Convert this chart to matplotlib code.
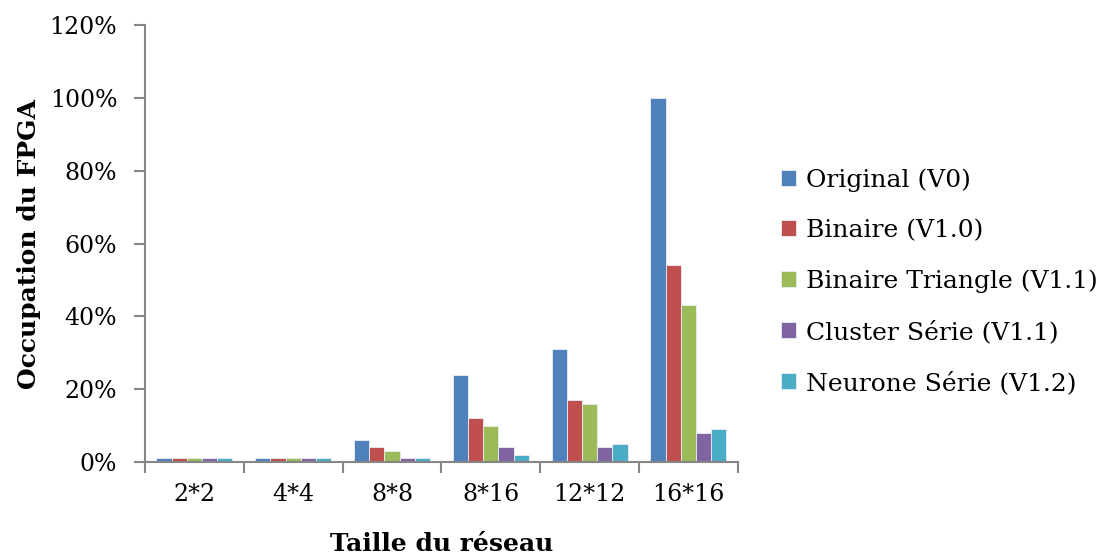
import matplotlib
matplotlib.use("Agg")
import matplotlib.pyplot as plt
import numpy as np
from matplotlib.ticker import FuncFormatter, MultipleLocator

categories = ["2*2", "4*4", "8*8", "8*16", "12*12", "16*16"]
series_names = ["Original (V0)", "Binaire (V1.0)", "Binaire Triangle (V1.1)",
                "Cluster Série (V1.1)", "Neurone Série (V1.2)"]
original = [1, 1, 6, 24, 31, 100]
binaire = [1, 1, 4, 12, 17, 54]
binaire_triangle = [1, 1, 3, 10, 16, 43]
cluster_serie = [1, 1, 1, 4, 4, 8]
neurone_serie = [1, 1, 1, 2, 5, 9]
colors = ["#4F81BD", "#C0504D", "#9BBB59", "#8064A2", "#4BACC6"]

plt.rcParams['font.family'] = ['DejaVu Serif']

fig = plt.figure(figsize=(11.02, 5.58), dpi=100)
ax = fig.add_axes([0.1316, 0.172, 0.538, 0.783])

data = [original, binaire, binaire_triangle, cluster_serie, neurone_serie]
x = np.arange(len(categories))
w = 1 / 6.5
for i, (vals, name, c) in enumerate(zip(data, series_names, colors)):
    ax.bar(x + (i - 2) * w, vals, width=w, color=c, label=name,
           edgecolor="#E8EEF6", linewidth=0.6)

ax.set_xlim(-0.5, len(categories) - 0.5)
ax.set_ylim(0, 120)
ax.yaxis.set_major_locator(MultipleLocator(20))
ax.yaxis.set_major_formatter(FuncFormatter(lambda v, p: f"{int(v)}%"))
ax.set_xticks(x)
ax.set_xticklabels(categories)
ax.set_xticks(np.arange(-0.5, len(categories), 1.0), minor=True)
ax.tick_params(axis='x', which='major', length=0, pad=15, labelsize=17)
ax.tick_params(axis='x', which='minor', length=8, width=1.5, color="#868686")
ax.tick_params(axis='y', length=8, width=1.5, color="#868686", labelsize=17, pad=12)

for s in ["top", "right"]:
    ax.spines[s].set_visible(False)
for s in ["left", "bottom"]:
    ax.spines[s].set_color("#868686")
    ax.spines[s].set_linewidth(1.5)

ax.set_ylabel("Occupation du FPGA", fontsize=18, fontweight="bold", labelpad=6)
ax.set_xlabel("Taille du réseau", fontsize=18, fontweight="bold", labelpad=19)

fig.legend(loc="center left", bbox_to_anchor=(0.709, 0.495), frameon=False,
           fontsize=18, handlelength=0.6, handleheight=0.6, handletextpad=0.4,
           labelspacing=1.09, borderaxespad=0, borderpad=0)

fig.savefig("out.png", dpi=100)
